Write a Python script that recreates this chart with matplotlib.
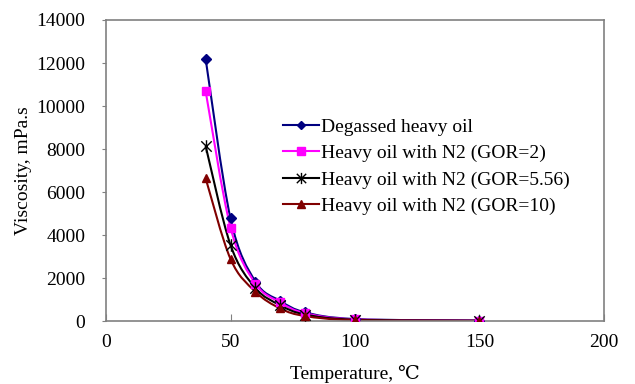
import numpy as np
import matplotlib
matplotlib.use("Agg")
import matplotlib.pyplot as plt
from matplotlib.path import Path
from matplotlib.patches import PathPatch

plt.rcParams['font.family'] = ['Liberation Serif', 'DejaVu Serif']

temps = [40, 50, 60, 70, 80, 100, 150]
degassed = [12200, 4780, 1850, 950, 420, 110, 40]
gor_2 = [10700, 4360, 1760, 880, 380, 95, 35]
gor_556 = [8150, 3550, 1550, 750, 320, 80, 30]
gor_10 = [6650, 2900, 1380, 600, 250, 60, 25]

labels = ["Degassed heavy oil", "Heavy oil with N2 (GOR=2)",
          "Heavy oil with N2 (GOR=5.56)", "Heavy oil with N2 (GOR=10)"]
colors = ["#000080", "#FF00FF", "#000000", "#800000"]

# Excel style star: an X with a vertical bar through it
star = Path([(-1, -1), (1, 1), (-1, 1), (1, -1), (0, -1.2), (0, 1.2)],
            [Path.MOVETO, Path.LINETO, Path.MOVETO, Path.LINETO,
             Path.MOVETO, Path.LINETO])
markers = ["D", "s", star, "^"]
msizes = [5, 6, 9, 6]


def smooth_path(x, y, t=1/6):
	# Bezier segments through the points (like Excel's smoothed line)
	x = np.asarray(x, float); y = np.asarray(y, float)
	verts = [(x[0], y[0])]
	codes = [Path.MOVETO]
	n = len(x)
	for i in range(n - 1):
		x0, y0 = (x[i-1], y[i-1]) if i > 0 else (x[i], y[i])
		x3, y3 = (x[i+2], y[i+2]) if i + 2 < n else (x[i+1], y[i+1])
		c1 = (x[i] + (x[i+1] - x0) * t, y[i] + (y[i+1] - y0) * t)
		c2 = (x[i+1] - (x3 - x[i]) * t, y[i+1] - (y3 - y[i]) * t)
		verts += [c1, c2, (x[i+1], y[i+1])]
		codes += [Path.CURVE4] * 3
	return Path(verts, codes)


fig = plt.figure(figsize=(6.35, 3.84), dpi=100)
ax = fig.add_axes([0.167, 0.163, 0.784, 0.785])

series = [degassed, gor_2, gor_556, gor_10]
for vals, lab, c, m, ms in zip(series, labels, colors, markers, msizes):
	ax.add_patch(PathPatch(smooth_path(temps, vals), facecolor="none",
	                       edgecolor=c, lw=1.5, zorder=2))
	ax.plot(temps, vals, linestyle="none", marker=m, color=c, ms=ms,
	        mew=1.0, zorder=3)
	ax.plot([], [], color=c, lw=1.5, marker=m, ms=ms * 0.9, label=lab)

ax.set_xlim(0, 200)
ax.set_ylim(0, 14000)
ax.set_xticks([0, 50, 100, 150, 200])
ax.set_yticks(range(0, 14001, 2000))
ax.tick_params(axis="x", direction="in", length=5, color="#808080",
               labelsize=14, pad=9)
ax.tick_params(axis="y", direction="out", length=3, color="#808080",
               labelsize=14, pad=12)
for s in ax.spines.values():
	s.set_color("#808080")
	s.set_linewidth(1.2)

ax.set_xlabel("Temperature, ℃", fontsize=14, labelpad=10)
ax.set_ylabel("Viscosity, mPa.s", fontsize=14, labelpad=3)

ax.legend(loc="upper left", bbox_to_anchor=(0.34, 0.7), frameon=False,
          fontsize=14, handlelength=1.85, handletextpad=0.1,
          labelspacing=0.45, borderaxespad=0)

fig.savefig("out.png", dpi=100)
